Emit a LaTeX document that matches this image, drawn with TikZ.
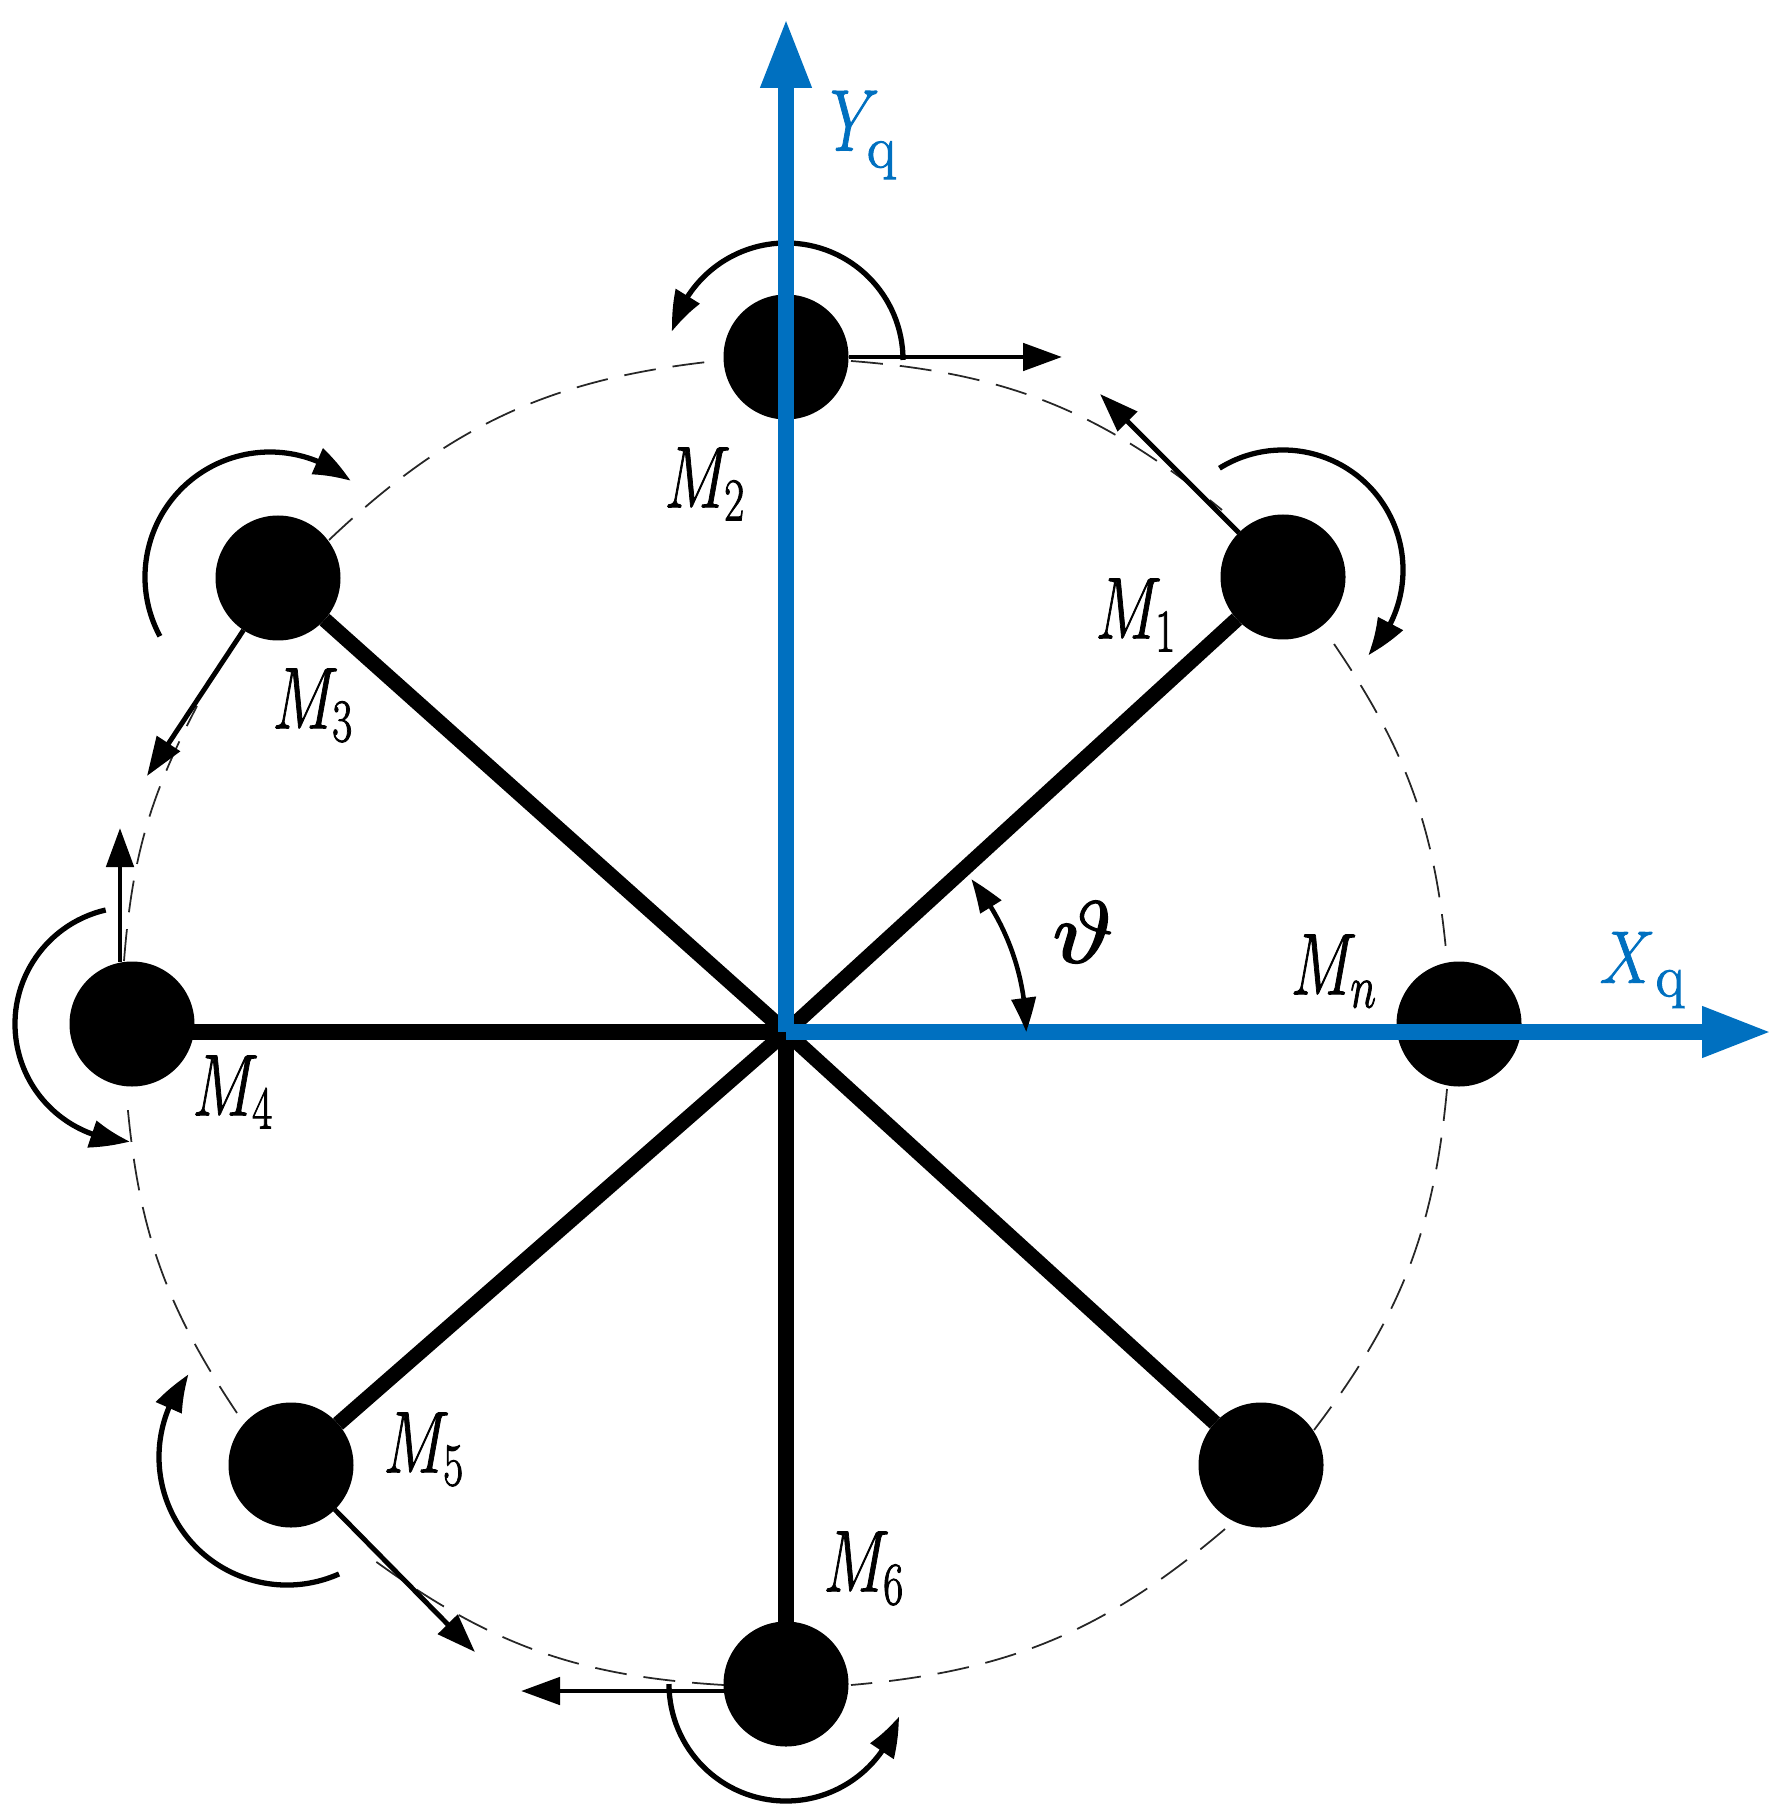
\documentclass[tikz,border=0pt]{standalone}
\usepackage{amsmath}
\usetikzlibrary{arrows.meta,calc,bending}
\definecolor{axisblue}{HTML}{0070C0}
\newcommand{\heavy}[2]{\special{pdf:code 2 Tr #1 w}#2\special{pdf:code 0 Tr}}
\newcommand{\lab}[1]{\heavy{0.3}{\scalebox{.72}[1]{$#1$}}}
\newcommand{\axlab}[4]{\heavy{0.3}{\scalebox{.72}[#2]{$#1$}\kern#3\raisebox{#4}{\fontsize{17}{20}\selectfont q}}}
\tikzset{
  mass/.style={circle,fill=black,minimum size=12.5mm,inner sep=0pt,outer sep=0pt},
  spoke/.style={line width=4.3pt,black},
  spokeh/.style={line width=4.6pt,black},
  axis/.style={line width=4.5pt,axisblue,-{Triangle[length=7mm,width=4.7mm]}},
  tang/.style={line width=1.4pt,black,-{Triangle[length=3.9mm,width=2.7mm]}},
  rot/.style={line width=1.5pt,black,-{Triangle[bend,length=3.9mm,width=2.7mm]}},
  angarrow/.style={line width=1.3pt,black,{Triangle[bend,length=3.4mm,width=2.4mm]}-{Triangle[bend,length=3.4mm,width=2.4mm]}},
  orbit/.style={line width=.5pt,black!85,dash pattern=on 3.2mm off 1.7mm},
  lbl/.style={inner sep=0pt,outer sep=0pt,font=\fontsize{24}{28}\selectfont},
  axlbl/.style={lbl,text=axisblue}
}
\begin{document}
\begin{tikzpicture}[x=0.1mm,y=-0.1mm]
\useasboundingbox (0,0) rectangle (1787,1815);
\coordinate (O) at (786,1032);
% orbit segment ends
\coordinate (a1) at (851,361);  \coordinate (a2) at (1222,510);
\coordinate (b1) at (1334,644); \coordinate (b2) at (1447,961);
\coordinate (c1) at (1447,1089);\coordinate (c2) at (1314,1430);
\coordinate (d1) at (1225,1529);\coordinate (d2) at (851,1685);
\coordinate (e1) at (724,1685); \coordinate (e2) at (371,1558);
\coordinate (f1) at (237,1413); \coordinate (f2) at (127,1100);
\coordinate (g1) at (124,961);  \coordinate (g2) at (197,706);
\coordinate (h1) at (329,540);  \coordinate (h2) at (716,361);
\draw[orbit] (a1) to[bend left=17.5] (a2);
\draw[orbit] (b1) to[bend left=14.6] (b2);
\draw[orbit] (c1) to[bend left=16] (c2);
\draw[orbit] (d1) to[bend left=17.7] (d2);
\draw[orbit] (e1) to[bend left=16.4] (e2);
\draw[orbit] (f1) to[bend left=14.4] (f2);
\draw[orbit] (g1) to[bend left=11.5] (g2);
\draw[orbit] (h1) to[bend left=18.7] (h2);
% masses
\node[mass] (M1) at (1283,577) {};
\node[mass] (M2) at (786,357) {};
\node[mass] (M3) at (278,578) {};
\node[mass] (M4) at (132,1024) {};
\node[mass] (Mn) at (1459,1024) {};
\node[mass] (M5) at (291,1465) {};
\node[mass] (M7) at (1261,1465) {};
\node[mass] (M6) at (786,1684) {};
% spokes
\draw[spoke] (O) -- (M1);
\draw[spoke] (O) -- (M3);
\draw[spokeh] (O) -- (M4.center |- O);
\draw[spoke] (O) -- (M5);
\draw[spoke] (O) -- (M7);
\draw[spokeh] (O) -- (M6);
% tangential arrows
\coordinate (t1) at (1100,394);
\coordinate (t2) at (1062,357);
\coordinate (t3) at (147,776);
\coordinate (t4) at (120,828);
\coordinate (t5) at (475,1652);
\coordinate (t6) at (521,1691);
\draw[tang] (M1) -- (t1);
\draw[tang] (M2) -- (t2);
\draw[tang] (M3) -- (t3);
\draw[tang] (M4.north -| t4) -- (t4);
\draw[tang] (M5) -- (t5);
\draw[tang] (M6.west |- t6) -- (t6);
% rotation arrows
\draw[rot] ([shift={(-122:120)}]$(M1.center)+(0,-7)$) arc[start angle=-122,end angle=45,radius=120];
\draw[rot] ([shift={(0:117)}]$(M2.center)+(0,3)$) arc[start angle=0,end angle=-166,radius=117];
\draw[rot] ([shift={(151.7:125)}]$(M3.center)+(-8,-1)$) arc[start angle=151.7,end angle=310,radius=125];
\draw[rot] ([shift={(257:117)}]M4.center) arc[start angle=257,end angle=91,radius=117];
\draw[rot] ([shift={(66:128)}]$(M5.center)+(-4,-8)$) arc[start angle=66,end angle=220,radius=128];
\draw[rot] ([shift={(180:117)}]M6.center) arc[start angle=180,end angle=16,radius=117];
% axes
\coordinate (xtip) at (1772,1032);
\coordinate (ytip) at (786,18);
\draw[axis] (O) -- (xtip);
\draw[axis] (O) -- (ytip);
% angle
\draw[angarrow] ([shift={(-39.5:240)}]O) arc[start angle=-39.5,end angle=0,radius=240];
% labels
\node[lbl] (l1) at (1136,615) {\lab{M_1}};
\node[lbl] (l2) at (705,484) {\lab{M_2}};
\node[lbl] (l3) at (313,705) {\lab{M_3}};
\node[lbl] (l4) at (233,1092) {\lab{M_4}};
\node[lbl] (l5) at (424,1449) {\lab{M_5}};
\node[lbl] (l6) at (864,1568) {\lab{M_6}};
\node[lbl] (ln) at (1334,971) {\lab{M_n}};
\node[lbl] (lt) at (1083,932) {\heavy{0.5}{\scalebox{1.2}[1]{$\vartheta$}}};
\node[axlbl] (lx) at (1642,970) {\axlab{X}{.85}{0pt}{-.16em}};
\node[axlbl] (ly) at (863,135) {\axlab{Y}{1}{-.15em}{-.2em}};
\end{tikzpicture}
\end{document}
